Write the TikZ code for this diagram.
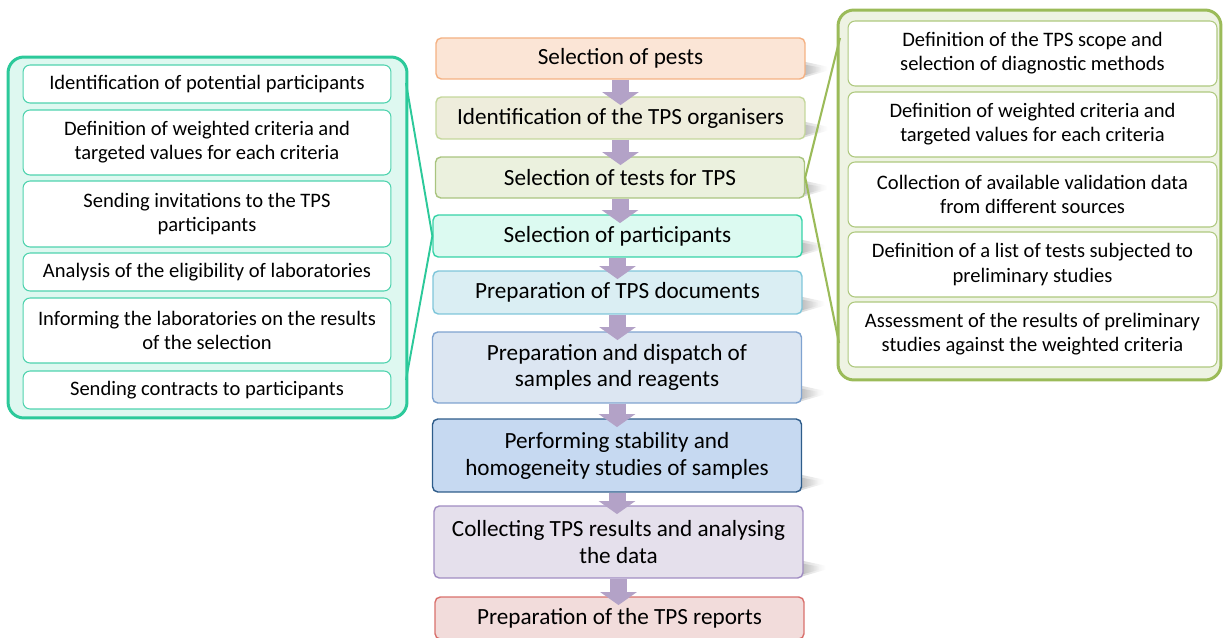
\documentclass[tikz,border=0pt]{standalone}
\usepackage{fontspec}
\setmainfont{Carlito}
\usetikzlibrary{positioning,arrows.meta,fadings}
\definecolor{pestfill}{HTML}{FBE5D6}\definecolor{pestline}{HTML}{F4B183}
\definecolor{orgfill}{HTML}{EEEDDC}\definecolor{orgline}{HTML}{C4D79B}
\definecolor{testfill}{HTML}{EBF1DE}\definecolor{testline}{HTML}{A9C47F}
\definecolor{partfill}{HTML}{DCFAF1}\definecolor{partline}{HTML}{35D3A7}
\definecolor{docfill}{HTML}{DAEEF3}\definecolor{docline}{HTML}{7FC6DA}
\definecolor{dispfill}{HTML}{DCE6F2}\definecolor{displine}{HTML}{7FA3D0}
\definecolor{stabfill}{HTML}{C6D9F1}\definecolor{stabline}{HTML}{2E5C8A}
\definecolor{collfill}{HTML}{E5E0EC}\definecolor{collline}{HTML}{A08CC2}
\definecolor{repfill}{HTML}{F2DCDB}\definecolor{repline}{HTML}{D9706C}
\definecolor{flowpurple}{HTML}{B3A2C7}
\definecolor{tealpanel}{HTML}{2CC99A}\definecolor{tealbox}{HTML}{4FD3AE}\definecolor{tealback}{HTML}{DEF8F0}
\definecolor{greenpanel}{HTML}{9BBB59}\definecolor{greenbox}{HTML}{AFC97F}\definecolor{greenback}{HTML}{EEF3E3}
\pgfdeclarelayer{background}
\pgfsetlayers{background,main}

\begin{document}
\begin{tikzpicture}[x=0.02cm,y=-0.02cm,
mainbox/.style={rectangle, rounded corners=3pt, line width=0.8pt, minimum width=7.38cm, align=center, font=\fontsize{13.2}{15.3}\selectfont},
sidebox/.style={rectangle, rounded corners=4pt, fill=white, line width=0.6pt, minimum width=7.36cm, align=center, font=\fontsize{11.7}{13.8}\selectfont},
leftbox/.style={sidebox, draw=tealbox},
rightbox/.style={sidebox, draw=greenbox, minimum width=7.38cm, minimum height=1.3cm},
panel/.style={rectangle, rounded corners=9pt, line width=1.7pt},
flow/.style={flowpurple, line width=0.34cm, -{Triangle[width=0.72cm,length=0.26cm]}},
boxshadow/.style={black!60, opacity=0.3, path fading=east},
]
\useasboundingbox (0,0) rectangle (1223,638);
\clip (0,0) rectangle (1223,638);

%Panels
\node[panel, draw=tealpanel, fill=tealback, minimum width=7.98cm, minimum height=7.22cm](leftpanel) at (207.5,237.5){};
\node[panel, draw=greenpanel, fill=greenback, minimum width=7.66cm, minimum height=7.4cm](rightpanel) at (1029.5,195){};

%Main steps
\node[mainbox, draw=pestline, fill=pestfill, minimum height=0.82cm](pests) at (620.5,58.5){Selection of pests};
\node[mainbox, draw=orgline, fill=orgfill, minimum height=0.84cm](organisers) at (620.5,118){Identification of the TPS organisers};
\node[mainbox, draw=testline, fill=testfill, minimum height=0.82cm](tests) at (620,177.5){Selection of tests for TPS};
\node[mainbox, draw=partline, fill=partfill, minimum height=0.84cm](participants) at (617.5,236){Selection of participants};
\node[mainbox, draw=docline, fill=docfill, minimum height=0.86cm](documents) at (617.5,292.5){Preparation of TPS documents};
\node[mainbox, draw=displine, fill=dispfill, minimum height=1.42cm](dispatch) at (617,367.5){Preparation and dispatch of\\samples and reagents};
\node[mainbox, draw=stabline, fill=stabfill, minimum height=1.46cm](stability) at (617,455.5){Performing stability and\\homogeneity studies of samples};
\node[mainbox, draw=collline, fill=collfill, minimum height=1.44cm](collecting) at (618.5,542){Collecting TPS results and analysing\\the data};
\node[mainbox, draw=repline, fill=repfill, minimum height=0.84cm](reports) at (619.5,618){Preparation of the TPS reports};

\begin{pgfonlayer}{background}
\foreach \step in {pests,organisers,tests,participants,documents,dispatch,stability,collecting}{
  \fill[boxshadow] ([shift={(-6,-19)}]\step.south east) -- ([shift={(22,-13)}]\step.south east)
    -- ([shift={(22,-9)}]\step.south east) -- ([shift={(-6,-1)}]\step.south east) -- cycle;
  \fill[boxshadow] ([shift={(-6,-16)}]\step.south east) -- ([shift={(16,-12)}]\step.south east)
    -- ([shift={(16,-9)}]\step.south east) -- ([shift={(-6,-3)}]\step.south east) -- cycle;
}
\end{pgfonlayer}

\draw[flow](pests.south) -- ([yshift=-5pt]pests.south |- organisers.north);
\draw[flow](organisers.south) -- ([yshift=-5pt]organisers.south |- tests.north);
\draw[flow](tests.south) -- ([yshift=-5pt]tests.south |- participants.north);
\draw[flow](participants.south) -- ([yshift=-5pt]participants.south |- documents.north);
\draw[flow](documents.south) -- ([yshift=-5pt]documents.south |- dispatch.north);
\draw[flow](dispatch.south) -- ([yshift=-5pt]dispatch.south |- stability.north);
\draw[flow](stability.south) -- ([yshift=-5pt]stability.south |- collecting.north);
\draw[flow](collecting.south) -- ([yshift=-5pt]collecting.south |- reports.north);

%Participant selection details
\node[leftbox, minimum height=0.76cm](invite1) at (207,84){Identification of potential participants};
\node[leftbox, minimum height=1.3cm](invite2) at (207,142.5){Definition of weighted criteria and\\targeted values for each criteria};
\node[leftbox, minimum height=1.32cm](invite3) at (207,214){Sending invitations to the TPS\\participants};
\node[leftbox, minimum height=0.76cm](invite4) at (207,272){Analysis of the eligibility of laboratories};
\node[leftbox, minimum height=1.3cm](invite5) at (207,330.5){Informing the laboratories on the results\\of the selection};
\node[leftbox, minimum height=0.76cm](invite6) at (207,390){Sending contracts to participants};

%Test selection details
\node[rightbox](choose1) at (1032.5,53.5){Definition of the TPS scope and\\selection of diagnostic methods};
\node[rightbox](choose2) at (1032.5,124.5){Definition of weighted criteria and\\targeted values for each criteria};
\node[rightbox](choose3) at (1032.5,194.5){Collection of available validation data\\from different sources};
\node[rightbox](choose4) at (1032.5,264.5){Definition of a list of tests subjected to\\preliminary studies};
\node[rightbox](choose5) at (1032.5,334.5){Assessment of the results of preliminary\\studies against the weighted criteria};

%Links
\coordinate (ltop) at (406,83);
\coordinate (lbot) at (406,380);
\coordinate (rtop) at (840,38);
\coordinate (rbot) at (839,343);
\draw[tealpanel, line width=1.1pt](ltop) -- (participants.west) -- (lbot);
\draw[greenpanel, line width=1.2pt](rtop) -- (tests.east) -- (rbot);
\end{tikzpicture}
\end{document}
